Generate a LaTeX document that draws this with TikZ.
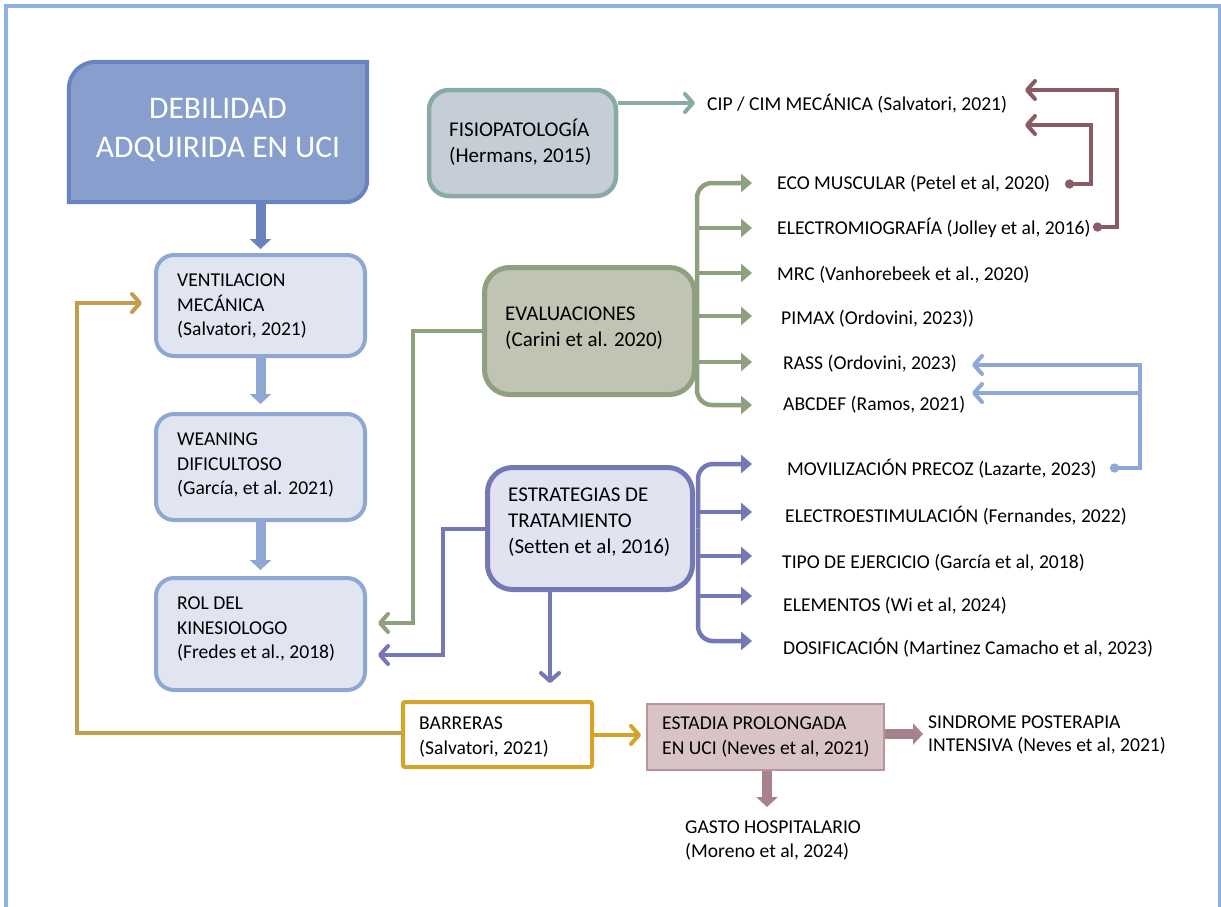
\documentclass[tikz,border=0pt]{standalone}
\usepackage{fontspec}
\setmainfont{Carlito}[Ligatures=NoCommon]
\usetikzlibrary{arrows.meta}
\definecolor{frameblue}{HTML}{8DB1E2}
\definecolor{debfill}{HTML}{889FCD}
\definecolor{debdraw}{HTML}{6983BE}
\definecolor{lbfill}{HTML}{E0E5F1}
\definecolor{lbdraw}{HTML}{8EA7D3}
\definecolor{fisfill}{HTML}{C5CDD7}
\definecolor{fisdraw}{HTML}{8AAAA5}
\definecolor{evfill}{HTML}{BFC4B3}
\definecolor{evdraw}{HTML}{8FA07F}
\definecolor{esfill}{HTML}{E2E3F1}
\definecolor{esdraw}{HTML}{7478B4}
\definecolor{brownln}{HTML}{8B5B63}
\definecolor{rblue}{HTML}{8EA8D8}
\definecolor{goldA}{HTML}{C39C4C}
\definecolor{goldB}{HTML}{D4A42A}
\definecolor{stfill}{HTML}{D8C4C6}
\definecolor{stdraw}{HTML}{B9959A}
\definecolor{starrow}{HTML}{A8828A}
\newcommand\lblfont{\fontsize{19.6pt}{24.5pt}\selectfont}
\newcommand\hdfont{\fontsize{21pt}{26pt}\selectfont}
\newcommand\ttlfont{\fontsize{31.5pt}{39.5pt}\selectfont}
\tikzset{
  boxnode/.style={rectangle, inner sep=0pt},
  lbox/.style={boxnode, draw=lbdraw, fill=lbfill, line width=4pt, rounded corners=18pt},
  txt/.style={anchor=west, align=left, inner sep=0pt, font=\lblfont},
  htxt/.style={anchor=west, align=left, inner sep=0pt, font=\hdfont},
  lbl/.style={anchor=base west, inner sep=0pt, font=\lblfont},
  bigtip/.style={-{Triangle[length=10pt,width=21pt]}, line width=10pt},
  barb/.style={-{Straight Barb[length=8pt,width=18pt,round]}, line width=4pt},
  tri/.style={-{Triangle[length=11pt,width=18pt]}, line width=4.5pt},
  dotbarb/.style={{Circle[length=9pt]}-{Straight Barb[length=8pt,width=18pt,round]}, line width=4pt},
}
\begin{document}
\begin{tikzpicture}[x=1pt,y=-1pt]
\useasboundingbox (0,0) rectangle (1221,906);
% frame
\draw[frameblue, line width=3.5pt] (6,6) rectangle (1219.5,915);

% main box
\node[boxnode, minimum width=298pt, minimum height=140pt] (deb) at (218,132) {};
\draw[draw=debdraw, fill=debfill, line width=4pt]
  ([yshift=-27pt]deb.north west) .. controls ([yshift=-12pt]deb.north west) and ([xshift=12pt]deb.north west) .. ([xshift=27pt]deb.north west)
  -- (deb.north east)
  -- ([yshift=22pt]deb.south east) .. controls ([yshift=9.9pt]deb.south east) and ([xshift=-9.9pt]deb.south east) .. ([xshift=-22pt]deb.south east)
  -- (deb.south west) -- cycle;
\node[font=\ttlfont, text=white, align=center, inner sep=0pt] (debT) at (218,130) {DEBILIDAD\\ADQUIRIDA EN UCI};

% left column
\node[lbox, minimum width=209pt, minimum height=101pt] (vent) at (260.5,305.5) {};
\node[txt] (ventT) at (177,306) {VENTILACION\\MECÁNICA\\(Salvatori, 2021)};
\node[lbox, minimum width=209pt, minimum height=106pt] (wean) at (260.5,467) {};
\node[txt] (weanT) at (177,465) {WEANING\\DIFICULTOSO\\(García, et al. 2021)};
\node[lbox, minimum width=209pt, minimum height=112pt] (rol) at (260.5,634) {};
\node[txt] (rolT) at (177,629) {ROL DEL\\KINESIOLOGO\\(Fredes et al., 2018)};

% fisiopatologia
\node[boxnode, draw=fisdraw, fill=fisfill, line width=4.5pt, rounded corners=20pt, minimum width=187pt, minimum height=106pt] (fisio) at (522.5,143) {};
\node[htxt] (fisioT) at (449,142) {FISIOPATOLOGÍA\\(Hermans, 2015)};

% evaluaciones
\node[boxnode, draw=evdraw, fill=evfill, line width=5pt, rounded corners=25pt, minimum width=210pt, minimum height=127pt] (eval) at (589.5,331) {};
\node[htxt] (evalT) at (505,328) {EVALUACIONES\\(Carini et al. 2020)};

% estrategias
\node[boxnode, draw=esdraw, fill=esfill, line width=5pt, rounded corners=25pt, minimum width=205pt, minimum height=122pt] (estr) at (590,528.5) {};
\node[htxt] (estrT) at (508,522.5) {ESTRATEGIAS DE\\TRATAMIENTO\\(Setten et al, 2016)};

% barreras
\node[boxnode, draw=goldB, fill=white, line width=4pt, rounded corners=2pt, minimum width=189pt, minimum height=65pt] (barr) at (497.5,734.5) {};
\node[txt] (barrT) at (419,737) {BARRERAS\\(Salvatori, 2021)};

% estadia
\node[boxnode, draw=stdraw, fill=stfill, line width=2.5pt, minimum width=237pt, minimum height=66pt] (est) at (765.5,737) {};
\node[txt] (estT) at (662,737) {ESTADIA PROLONGADA\\EN UCI (Neves et al, 2021)};

\node[txt, font=\fontsize{19.6pt}{23pt}\selectfont] (sind) at (928,735) {SINDROME POSTERAPIA\\INTENSIVA (Neves et al, 2021)};
\node[txt, font=\fontsize{19.6pt}{24pt}\selectfont] (gasto) at (685,840.5) {GASTO HOSPITALARIO\\(Moreno et al, 2024)};

% side labels
\node[lbl] (cip) at (707,110) {CIP / CIM MECÁNICA (Salvatori, 2021)};
\node[lbl] (eco) at (777,189.5) {ECO MUSCULAR (Petel et al, 2020)};
\node[lbl] (elec) at (777,234.5) {ELECTROMIOGRAFÍA (Jolley et al, 2016)};
\node[lbl] (mrc) at (777,280.5) {MRC (Vanhorebeek et al., 2020)};
\node[lbl] (pimax) at (781,324.5) {PIMAX (Ordovini, 2023))};
\node[lbl] (rass) at (783,369.5) {RASS (Ordovini, 2023)};
\node[lbl] (abc) at (783,410.5) {ABCDEF (Ramos, 2021)};
\node[lbl] (mov) at (787,475.5) {MOVILIZACIÓN PRECOZ (Lazarte, 2023)};
\node[lbl] (eest) at (785,522.5) {ELECTROESTIMULACIÓN (Fernandes, 2022)};
\node[lbl] (tipo) at (782,568.5) {TIPO DE EJERCICIO (García et al, 2018)};
\node[lbl] (elem) at (783,611.5) {ELEMENTOS (Wi et al, 2024)};
\node[lbl] (dosi) at (783,654.5) {DOSIFICACIÓN (Martinez Camacho et al, 2023)};

% tip coordinates
\coordinate (tcip) at (695,103);
\coordinate (tE1) at (752,183);
\coordinate (tE2) at (752,228);
\coordinate (tE3) at (752,273);
\coordinate (tE4) at (752,316);
\coordinate (tE5) at (752,362);
\coordinate (tE6) at (752,405);
\coordinate (tP1) at (752,464);
\coordinate (tP2) at (752,512);
\coordinate (tP3) at (752,556);
\coordinate (tP4) at (752,596);
\coordinate (tP5) at (752,641);
\coordinate (trolg) at (378,623);
\coordinate (trolp) at (378,655);
\coordinate (tdown) at (550,683);
\coordinate (tvent) at (142,303);
\coordinate (goldturn) at (77,733);
\coordinate (tbarr) at (641,735);
\coordinate (tsind) at (923,734);
\coordinate (tgasto) at (767,807);
\coordinate (deco) at (1065,184);
\coordinate (delec) at (1093,227);
\coordinate (tc1) at (1025,125);
\coordinate (tc2) at (1025,90);
\coordinate (dmov) at (1110,468);
\coordinate (trass) at (972,365);
\coordinate (tabc) at (972,393);

% big arrows
\draw[bigtip, debdraw, shorten >=4pt] (deb.south -| vent.north) -- (vent.north);
\draw[bigtip, lbdraw, shorten >=8pt] (vent.south) -- (wean.north);
\draw[bigtip, lbdraw, shorten >=6pt] (wean.south) -- (rol.north);
\draw[bigtip, starrow] (est.east |- tsind) -- (tsind);
\draw[bigtip, starrow] (est.south -| tgasto) -- (tgasto);

% fisio arrow
\draw[barb, fisdraw] (fisio.east |- tcip) -- (tcip);

% evaluation branches
\draw[tri, evdraw, rounded corners=15pt] (eval.east) |- (tE1);
\draw[tri, evdraw] (eval.east |- tE2) -- (tE2);
\draw[tri, evdraw] (eval.east |- tE3) -- (tE3);
\draw[tri, evdraw] (eval.east |- tE4) -- (tE4);
\draw[tri, evdraw] (eval.east |- tE5) -- (tE5);
\draw[tri, evdraw, rounded corners=15pt] (eval.east) |- (tE6);
\draw[barb, evdraw] (eval.west) -- ++(-69,0) |- (trolg);

% strategy branches
\draw[tri, esdraw, rounded corners=15pt] ([xshift=3pt]estr.east) |- (tP1);
\draw[tri, esdraw] ([xshift=3pt]estr.east |- tP2) -- (tP2);
\draw[tri, esdraw] ([xshift=3pt]estr.east |- tP3) -- (tP3);
\draw[tri, esdraw] ([xshift=3pt]estr.east |- tP4) -- (tP4);
\draw[tri, esdraw, rounded corners=15pt] ([xshift=3pt]estr.east) |- (tP5);
\draw[barb, esdraw] (estr.west) -- ++(-42,0) |- (trolp);
\draw[barb, esdraw] (estr.south -| tdown) -- (tdown);

% gold
\draw[barb, goldA] (barr.west |- goldturn) -- (goldturn) |- (tvent);
\draw[barb, goldB] (barr.east |- tbarr) -- (tbarr);

% brown
\draw[dotbarb, brownln] (deco) -- ++(26,0) |- (tc1);
\draw[dotbarb, brownln] (delec) -- ++(24,0) |- (tc2);

% right blue
\draw[dotbarb, rblue] (dmov) -- ++(30,0) |- (trass);
\draw[barb, rblue] ([xshift=30pt]dmov |- tabc) -- (tabc);
\end{tikzpicture}
\end{document}
